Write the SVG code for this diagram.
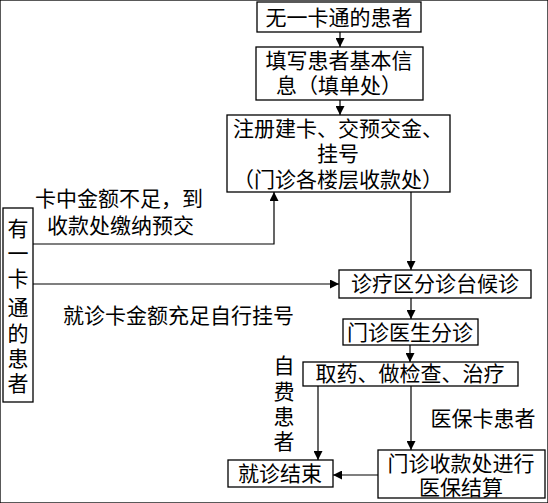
<svg xmlns="http://www.w3.org/2000/svg" width="548" height="503" viewBox="0 0 548 503">
<style>
  rect { fill: #fff; stroke: #000; stroke-width: 1.3; }
  text { font-family: "Noto Sans CJK SC", "Noto Sans", sans-serif; font-size: 21px; fill: #000; text-anchor: middle; }
  .l { text-anchor: start; }
  .c path, .c polyline, .c line { fill: none; stroke: #000; stroke-width: 1.2; }
</style>
<defs>
  <marker id="ah" viewBox="0 0 10 10" refX="10" refY="5" markerWidth="9" markerHeight="9" markerUnits="userSpaceOnUse" orient="auto">
    <path d="M0,0 L10,5 L0,10 z" fill="#000"/>
  </marker>
</defs>
<rect width="548" height="503" fill="#fff" stroke="none"/>

<g class="c" id="connectors">
  <line x1="340" y1="32" x2="340" y2="47" marker-end="url(#ah)"/>
  <line x1="340" y1="100" x2="340" y2="115" marker-end="url(#ah)"/>
  <line x1="411" y1="192" x2="411" y2="270" marker-end="url(#ah)"/>
  <polyline points="33,244 274,244 274,192" marker-end="url(#ah)"/>
  <line x1="33" y1="284" x2="339" y2="284" marker-end="url(#ah)"/>
  <line x1="411" y1="298" x2="411" y2="319" marker-end="url(#ah)"/>
  <line x1="410" y1="345" x2="410" y2="362" marker-end="url(#ah)"/>
  <line x1="318" y1="386" x2="318" y2="460" marker-end="url(#ah)"/>
  <line x1="411" y1="386" x2="411" y2="450" marker-end="url(#ah)"/>
  <line x1="378" y1="475" x2="333" y2="475" marker-end="url(#ah)"/>
</g>

<g id="n1"><rect x="257" y="2" width="164" height="30"/><text x="339" y="25">无一卡通的患者</text></g>
<g id="n2"><rect x="256" y="47" width="167" height="53"/><text x="339" y="68">填写患者基本信<tspan x="339" dy="25">息（填单处）</tspan></text></g>
<g id="n3"><rect x="227" y="115" width="223" height="77"/><text x="338" y="136">注册建卡、交预交金、<tspan x="338" dy="25">挂号</tspan><tspan x="338" dy="26">（门诊各楼层收款处）</tspan></text></g>
<g id="n4"><rect x="3" y="208" width="30" height="194"/>
  <text x="18" y="236">有<tspan x="18" dy="25">一</tspan><tspan x="18" dy="25">卡</tspan><tspan x="18" dy="29">通</tspan><tspan x="18" dy="26">的</tspan><tspan x="18" dy="25">患</tspan><tspan x="18" dy="25">者</tspan></text>
</g>
<g id="n5"><rect x="339" y="270" width="192" height="28"/><text x="435" y="291">诊疗区分诊台候诊</text></g>
<g id="n6"><rect x="343" y="319" width="135" height="26"/><text x="410" y="340">门诊医生分诊</text></g>
<g id="n7"><rect x="303" y="362" width="215" height="24"/><text x="410" y="381">取药、做检查、治疗</text></g>
<g id="n8"><rect x="228" y="460" width="105" height="27"/><text x="280" y="481">就诊结束</text></g>
<g id="n9"><rect x="378" y="450" width="167" height="48"/><text x="461" y="471">门诊收款处进行<tspan x="461" dy="24">医保结算</tspan></text></g>

<g id="labels">
  <text class="l" x="35" y="206">卡中金额不足，到<tspan x="47" dy="27">收款处缴纳预交</tspan></text>
  <text class="l" x="63" y="323">就诊卡金额充足自行挂号</text>
  <text x="284" y="373">自<tspan x="284" dy="26">费</tspan><tspan x="284" dy="25">患</tspan><tspan x="284" dy="25">者</tspan></text>
  <text x="483" y="426">医保卡患者</text>
</g>
</svg>
